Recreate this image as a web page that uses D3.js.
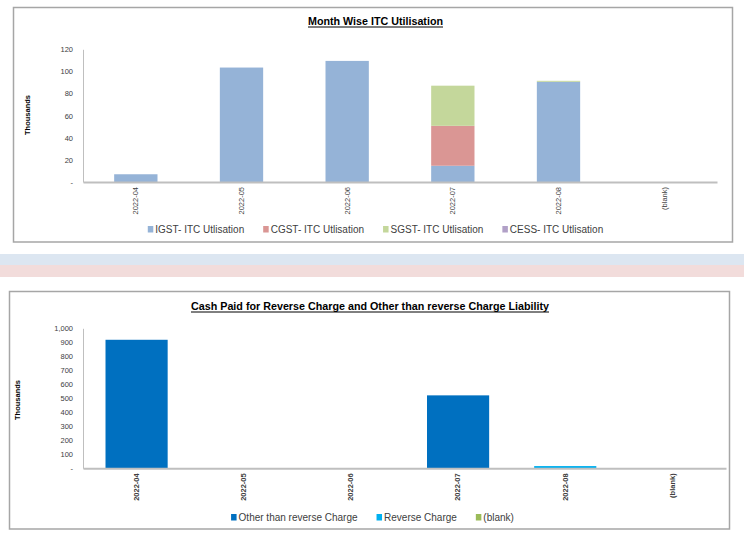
<!DOCTYPE html>
<html><head><meta charset="utf-8">
<script src="https://cdn.jsdelivr.net/npm/d3@7/dist/d3.min.js"></script>
<style>
html,body{margin:0;padding:0;background:#fff;}
svg{display:block;}
text{font-family:"Liberation Sans","DejaVu Sans",sans-serif;}
</style></head>
<body>
<svg id="c" width="744" height="535"></svg>
<script>
// ---------- Data ----------
const categories = ["2022-04","2022-05","2022-06","2022-07","2022-08","(blank)"];

// Chart 1: Month Wise ITC Utilisation (values in thousands)
const itcSeries = ["IGST- ITC Utlisation","CGST- ITC Utlisation","SGST- ITC Utlisation","CESS- ITC Utlisation"];
const igst = [7, 103.5, 109.5, 14.7, 90.6, 0];
const cgst = [0, 0, 0, 36.1, 0, 0];
const sgst = [0, 0, 0, 36.3, 0.9, 0];
const cess = [0, 0, 0, 0, 0, 0];
const itcColors = ["#95b3d7","#da9694","#c4d79b","#b1a0c7"];
const itcTicks = [0,20,40,60,80,100,120];

// Chart 2: Cash Paid (values in thousands)
const cashSeries = ["Other than reverse Charge","Reverse Charge","(blank)"];
const otherThanRC = [918, 0, 0, 521, 0, 0];
const reverseCharge = [0, 0, 0, 0, 16, 0];
const blankSeries = [0, 0, 0, 0, 0, 0];
const cashColors = ["#0070c0","#00b0f0","#9bbb59"];
const cashTicks = [0,100,200,300,400,500,600,700,800,900,1000];

const svg = d3.select("#c");

// separator bands
svg.append("rect").attr("x",0).attr("y",254).attr("width",744).attr("height",11).attr("fill","#dce6f1");
svg.append("rect").attr("x",0).attr("y",265).attr("width",744).attr("height",12).attr("fill","#f2dcdb");

function drawChart(cfg){
  const g = svg.append("g");
  // frame
  g.append("rect").attr("x",cfg.box[0]).attr("y",cfg.box[1])
    .attr("width",cfg.box[2]-cfg.box[0]).attr("height",cfg.box[3]-cfg.box[1])
    .attr("fill","#fff").attr("stroke","#a6a6a6").attr("stroke-width",1.5);
  // title
  g.append("text").attr("x",cfg.titleX).attr("y",cfg.titleY)
    .attr("text-anchor","middle").attr("font-size",cfg.titleSize).attr("font-weight","bold")
    .attr("fill","#000").text(cfg.title)
    .attr("textLength",cfg.titleW).attr("lengthAdjust","spacingAndGlyphs");
  g.append("line").attr("x1",cfg.titleX-cfg.titleW/2).attr("x2",cfg.titleX+cfg.titleW/2)
    .attr("y1",cfg.titleY+2).attr("y2",cfg.titleY+2).attr("stroke","#000").attr("stroke-width",1);

  const x = d3.scaleBand().domain(categories).range([cfg.plot.x0,cfg.plot.x1])
    .paddingInner(cfg.padIn).paddingOuter(cfg.padIn/2);
  const y = d3.scaleLinear().domain([0,cfg.ymax]).range([cfg.plot.y0,cfg.plot.y1]);

  // stacked bars
  const rows = categories.map((c,i)=>{const r={cat:c}; cfg.series.forEach((s,k)=>r[s]=cfg.values[k][i]); return r;});
  const stack = d3.stack().keys(cfg.series)(rows);
  stack.forEach((layer,k)=>{
    g.append("g").selectAll("rect").data(layer.filter(d=>d[1]-d[0]>0)).join("rect")
      .attr("x",d=>x(d.data.cat)).attr("width",x.bandwidth())
      .attr("y",d=>y(d[1])).attr("height",d=>y(d[0])-y(d[1]))
      .attr("fill",cfg.colors[k]);
  });

  // y axis
  const ya = d3.axisLeft(y).tickValues(cfg.ticks).tickSize(0).tickPadding(cfg.yPad)
    .tickFormat(v=>v===0?"-":d3.format(",")(v));
  const yg = g.append("g").attr("transform",`translate(${cfg.plot.x0},0)`).call(ya);
  yg.select(".domain").attr("stroke","#bfbfbf").attr("stroke-width",1);
  yg.selectAll("text").attr("font-size",7.5).attr("fill","#404040").attr("font-family","Liberation Sans, sans-serif");

  // x axis
  const xa = d3.axisBottom(x).tickSize(0).tickPadding(0);
  const xg = g.append("g").attr("transform",`translate(0,${cfg.plot.y0})`).call(xa);
  xg.select(".domain").attr("stroke","#bfbfbf").attr("stroke-width",2);
  xg.selectAll("text").attr("font-size",7.5).attr("fill","#404040")
    .attr("font-weight",cfg.xBold?"bold":"normal")
    .attr("transform","rotate(-90)").attr("text-anchor","end")
    .attr("x",-5).attr("y",0).attr("dy","0.32em");

  // y title
  g.append("text").attr("transform",`translate(${cfg.yTitleX},${cfg.yTitleY}) rotate(-90)`)
    .attr("text-anchor","middle").attr("font-size",7.5).attr("font-weight","bold")
    .attr("fill","#000").text("Thousands");

  // legend
  const lg = g.append("g");
  let cx = 0;
  cfg.series.forEach((s,k)=>{
    const it = lg.append("g").attr("transform",`translate(${cx},0)`);
    it.append("rect").attr("x",0).attr("y",-7).attr("width",5.5).attr("height",6.5).attr("fill",cfg.colors[k]);
    const tx = it.append("text").attr("x",7.5).attr("y",0).attr("font-size",cfg.legSize)
      .attr("fill","#404040").text(s);
    const w = tx.node().getComputedTextLength();
    cx += 7.5 + w + cfg.legGap;
  });
  const total = cx - cfg.legGap;
  lg.attr("transform",`translate(${cfg.legCx-total/2},${cfg.legY})`);
}

drawChart({
  box:[13.5,7.5,732.5,242],
  title:"Month Wise ITC Utilisation", titleX:375.5, titleY:25, titleW:135, titleSize:11.5,
  plot:{x0:83,x1:717,y0:182,y1:49.3}, ymax:120, ticks:itcTicks, padIn:0.59, yPad:10,
  series:itcSeries, values:[igst,cgst,sgst,cess], colors:itcColors,
  yTitleX:30, yTitleY:115, xBold:false,
  legCx:375.5, legY:233, legSize:10, legGap:19
});

drawChart({
  box:[9.5,291.5,729.5,529],
  title:"Cash Paid for Reverse Charge and Other than reverse Charge Liability", titleX:370, titleY:310, titleW:358, titleSize:11.5,
  plot:{x0:83,x1:726,y0:468.3,y1:328.3}, ymax:1000, ticks:cashTicks, padIn:0.42, yPad:10,
  series:cashSeries, values:[otherThanRC,reverseCharge,blankSeries], colors:cashColors,
  yTitleX:20, yTitleY:400, xBold:true,
  legCx:372.5, legY:521, legSize:10, legGap:19
});
</script>
</body></html>
